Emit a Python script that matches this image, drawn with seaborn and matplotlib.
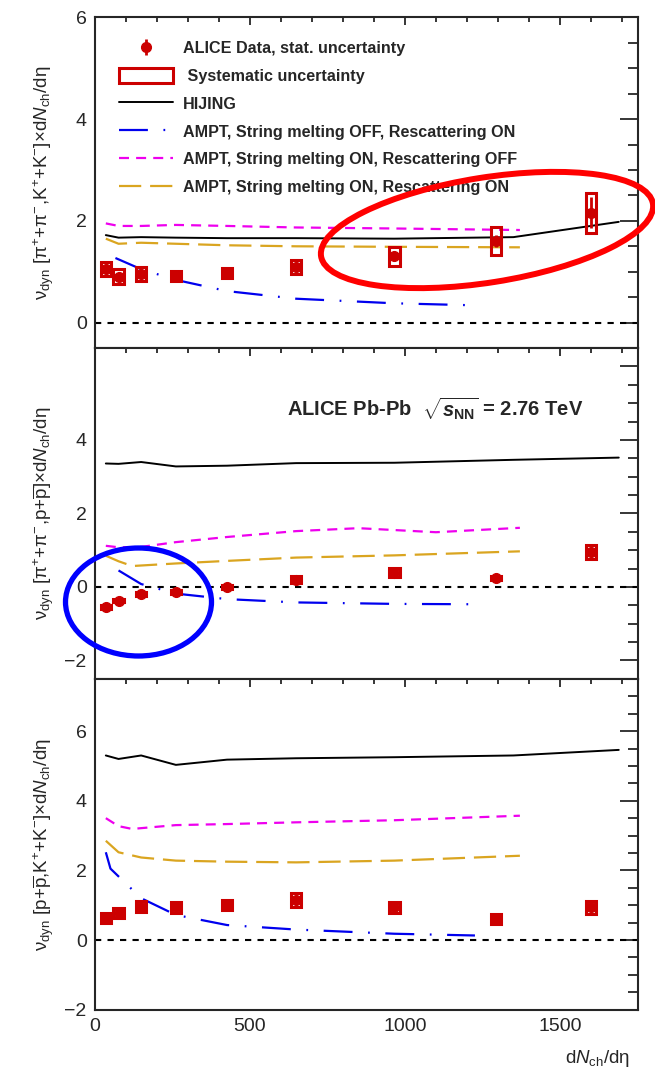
import numpy as np
import pandas as pd
import matplotlib.pyplot as plt
import seaborn as sns
from matplotlib.patches import Ellipse
from matplotlib.ticker import MultipleLocator

# centrality classes, dNch/deta
dndeta = [35, 76, 149, 261, 426, 649, 966, 1294, 1601]

# ALICE data: value, stat. and syst. uncertainty for each panel
pik_val = [1.05, 0.9, 0.96, 0.92, 0.97, 1.1, 1.3, 1.6, 2.16]
pik_stat = [0.03, 0.03, 0.03, 0.03, 0.03, 0.05, 0.08, 0.12, 0.3]
pik_sys = [0.14, 0.15, 0.14, 0.1, 0.1, 0.14, 0.19, 0.27, 0.39]

pip_val = [-0.55, -0.37, -0.2, -0.13, 0.0, 0.2, 0.39, 0.25, 0.94]
pip_stat = [0.03, 0.03, 0.03, 0.03, 0.03, 0.04, 0.05, 0.05, 0.1]
pip_sys = [0.05, 0.05, 0.05, 0.05, 0.05, 0.1, 0.12, 0.05, 0.19]

pk_val = [0.63, 0.77, 0.96, 0.94, 1.01, 1.15, 0.94, 0.6, 0.94]
pk_stat = [0.03, 0.03, 0.03, 0.03, 0.03, 0.05, 0.05, 0.05, 0.08]
pk_sys = [0.15, 0.15, 0.15, 0.15, 0.15, 0.21, 0.15, 0.15, 0.18]

# HIJING
hij_x = [35, 76, 149, 261, 426, 649, 966, 1350, 1690]
hij_pik = [1.72, 1.67, 1.68, 1.67, 1.66, 1.66, 1.65, 1.68, 1.98]
hij_pip = [3.36, 3.35, 3.4, 3.28, 3.3, 3.37, 3.38, 3.46, 3.52]
hij_pk = [5.3, 5.2, 5.3, 5.03, 5.18, 5.22, 5.25, 5.3, 5.46]

# AMPT, string melting OFF, rescattering ON
smoff_pik_x = [66, 149, 261, 426, 649, 966, 1226]
smoff_pik = [1.27, 1.05, 0.84, 0.62, 0.47, 0.38, 0.34]
smoff_pip_x = [76, 149, 261, 426, 649, 966, 1226]
smoff_pip = [0.45, 0.08, -0.18, -0.33, -0.42, -0.46, -0.47]
smoff_pk_x = [35, 50, 149, 261, 426, 649, 966, 1226]
smoff_pk = [2.52, 2.05, 1.2, 0.72, 0.43, 0.3, 0.18, 0.13]

# AMPT, string melting ON, rescattering OFF
resoff_pik_x = [35, 76, 149, 261, 426, 649, 966, 1371]
resoff_pik = [1.95, 1.9, 1.9, 1.92, 1.9, 1.87, 1.85, 1.82]
resoff_pip_x = [35, 76, 149, 261, 426, 649, 850, 1100, 1371]
resoff_pip = [1.12, 1.08, 1.09, 1.22, 1.36, 1.52, 1.6, 1.49, 1.61]
resoff_pk_x = [35, 76, 120, 261, 426, 649, 966, 1371]
resoff_pk = [3.5, 3.27, 3.19, 3.3, 3.33, 3.38, 3.44, 3.57]

# AMPT, string melting ON, rescattering ON
reson_pik_x = [35, 76, 149, 261, 426, 649, 966, 1371]
reson_pik = [1.65, 1.55, 1.57, 1.55, 1.52, 1.5, 1.49, 1.48]
reson_pip_x = [35, 76, 120, 261, 426, 649, 966, 1371]
reson_pip = [0.85, 0.7, 0.57, 0.64, 0.71, 0.8, 0.86, 0.97]
reson_pk_x = [35, 76, 149, 261, 426, 649, 966, 1371]
reson_pk = [2.85, 2.52, 2.37, 2.28, 2.25, 2.23, 2.28, 2.42]

labels = ['ALICE Data, stat. uncertainty', ' Systematic uncertainty', 'HIJING',
          'AMPT, String melting OFF, Rescattering ON',
          'AMPT, String melting ON, Rescattering OFF',
          'AMPT, String melting ON, Rescattering ON']

nu = r'$\mathrm{\nu}_{\rm dyn}$'
tail = r'$\times$d$N_{\rm ch}$/d$\mathrm{\eta}$'
ylabels = [nu + r' [$\mathrm{\pi}^{+}$+$\mathrm{\pi}^{-}$,K$^{+}$+K$^{-}$]' + tail,
           nu + r' [$\mathrm{\pi}^{+}$+$\mathrm{\pi}^{-}$,p+$\overline{\rm p}$]' + tail,
           nu + r' [p+$\overline{\rm p}$,K$^{+}$+K$^{-}$]' + tail]

sns.set_style('white')
plt.rcParams['font.family'] = ['Liberation Sans', 'DejaVu Sans']
plt.rcParams['mathtext.fontset'] = 'custom'
plt.rcParams['mathtext.rm'] = 'Liberation Sans'
plt.rcParams['mathtext.it'] = 'Liberation Sans:italic'
plt.rcParams['mathtext.bf'] = 'Liberation Sans:bold'
plt.rcParams['mathtext.bfit'] = 'Liberation Sans:italic:bold'

red = '#cc0000'
styles = [dict(color='black', lw=1.4, ls='-'),
          dict(color='#0000ee', lw=1.6, ls=(0, (13, 7, 0.8, 7))),
          dict(color='#ee00ee', lw=1.6, ls=(0, (4.5, 3.2))),
          dict(color='#daa520', lw=1.6, ls=(0, (10, 4)))]

panels = [
    dict(val=pik_val, stat=pik_stat, sys=pik_sys, ylim=(-0.5, 6),
         curves=[(hij_x, hij_pik), (smoff_pik_x, smoff_pik), (resoff_pik_x, resoff_pik), (reson_pik_x, reson_pik)],
         yticks=[0, 2, 4, 6], ytl=['0', '2', '4', '6']),
    dict(val=pip_val, stat=pip_stat, sys=pip_sys, ylim=(-2.5, 6.5),
         curves=[(hij_x, hij_pip), (smoff_pip_x, smoff_pip), (resoff_pip_x, resoff_pip), (reson_pip_x, reson_pip)],
         yticks=[-2, 0, 2, 4, 6], ytl=['\u22122', '0', '2', '4', '']),
    dict(val=pk_val, stat=pk_stat, sys=pk_sys, ylim=(-2, 7.5),
         curves=[(hij_x, hij_pk), (smoff_pk_x, smoff_pk), (resoff_pk_x, resoff_pk), (reson_pk_x, reson_pk)],
         yticks=[-2, 0, 2, 4, 6], ytl=['\u22122', '0', '2', '4', '6']),
]

fig, axes = plt.subplots(3, 1, figsize=(6.55, 10.81), dpi=100, sharex=True)
fig.subplots_adjust(left=0.145, right=0.974, top=0.984, bottom=0.066, hspace=0)

for i, (ax, p) in enumerate(zip(axes, panels)):
    ax.axhline(0, color='black', lw=1.5, ls=(0, (3, 3)), zorder=1)
    handles = []
    for (cx, cy), st in zip(p['curves'], styles):
        df = pd.DataFrame({'x': cx, 'y': cy})
        sns.lineplot(data=df, x='x', y='y', ax=ax, sort=False, color=st['color'],
                     linewidth=st['lw'], linestyle=st['ls'], zorder=2)
        handles.append(ax.lines[-1])
    val = np.array(p['val'])
    sys_ = np.array(p['sys'])
    boxes = ax.bar(dndeta, 2 * sys_, bottom=val - sys_, width=34, fill=False,
                   edgecolor=red, linewidth=2.2, zorder=3)
    eb = ax.errorbar(dndeta, val, yerr=p['stat'], fmt='o', color=red, ms=7,
                     elinewidth=2, capsize=0, zorder=4)
    ax.set_ylim(*p['ylim'])
    ax.set_yticks(p['yticks'])
    ax.set_yticklabels(p['ytl'])
    ax.yaxis.set_minor_locator(MultipleLocator(0.5))
    ax.set_ylabel(ylabels[i], fontsize=13.5)
    ax.yaxis.set_label_coords(-0.072, 0.5)
    ax.tick_params(which='both', direction='in', top=True, right=True, labelsize=14, width=1.3)
    ax.tick_params(axis='y', which='major', length=13, pad=6)
    ax.tick_params(axis='y', which='minor', length=7)
    ax.tick_params(axis='x', which='major', length=6, pad=6)
    ax.tick_params(axis='x', which='minor', length=3.5)
    for s in ax.spines.values():
        s.set_linewidth(1.5)
    if i == 0:
        leg_handles = [eb, boxes.patches[0]] + handles
        ax.legend(leg_handles, labels, loc='upper left', bbox_to_anchor=(0.045, 0.93),
                  frameon=False, prop={'weight': 'bold', 'size': 11.6},
                  handlelength=3.3, handleheight=1.0, handletextpad=0.65, labelspacing=0.75,
                  borderaxespad=0, borderpad=0)

ax = axes[-1]
ax.set_xlim(0, 1752)
ax.set_xticks([0, 500, 1000, 1500])
ax.xaxis.set_minor_locator(MultipleLocator(100))
ax.set_xlabel(r'd$N_{\rm ch}$/d$\mathrm{\eta}$', fontsize=13.5, loc='right')
ax.xaxis.set_label_coords(0.985, -0.115, transform=ax.transAxes)
ax.xaxis.label.set_ha('right')
for a in axes[:-1]:
    a.set_xlabel('')

axes[1].text(0.354, 0.816, r'ALICE Pb-Pb  $\sqrt{\mathbfit{s}_{\mathbf{NN}}}$ = 2.76 TeV',
             transform=axes[1].transAxes, fontsize=14.5, fontweight='bold', va='center', ha='left')

# hand-drawn highlight ellipses
fig.add_artist(Ellipse((4.87, 8.51), 3.36, 1.05, angle=9, fill=False, edgecolor='#ff0000',
                       lw=4.3, transform=fig.dpi_scale_trans))
fig.add_artist(Ellipse((1.385, 4.79), 1.46, 1.08, angle=0, fill=False, edgecolor='#0000ff',
                       lw=3.8, transform=fig.dpi_scale_trans))

fig.savefig('out.png', dpi=100)
